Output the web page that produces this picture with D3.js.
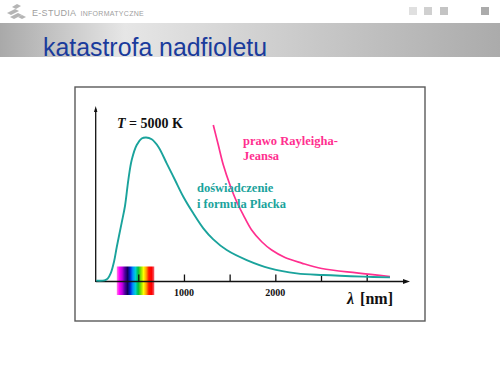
<!DOCTYPE html>
<html lang="pl">
  <head>
    <meta charset="UTF-8" />
    <title>katastrofa nadfioletu</title>
    <style>
      body { margin: 0; background: #fff; }
      svg { display: block; }
    </style>
  </head>
  <body>
    <script src="https://d3js.org/d3.v7.min.js"></script>
    <script>
      // wartości (nm, jednostki względne)
      const planckNm = [40, 130, 165, 200, 235, 264, 318, 355, 391, 428, 483, 537, 585, 647, 719, 811, 902, 993, 1102, 1212, 1321, 1468, 1687, 1942, 2234, 2525, 2963, 3255];
      const planckVal = [0.006, 0.008, 0.02, 0.06, 0.14, 0.24, 0.41, 0.53, 0.71, 0.85, 0.955, 1.0, 1.008, 0.995, 0.943, 0.827, 0.71, 0.593, 0.477, 0.372, 0.295, 0.22, 0.15, 0.092, 0.057, 0.045, 0.034, 0.029];
      const rjNm = [1321, 1376, 1431, 1504, 1577, 1650, 1741, 1851, 1960, 2106, 2289, 2508, 2891, 3255];
      const rjVal = [1.095, 0.955, 0.815, 0.675, 0.558, 0.465, 0.36, 0.278, 0.22, 0.168, 0.129, 0.091, 0.06, 0.035];
      const tickNm = [500, 1000, 1500, 2000, 2500, 3000];
      const tickLabels = ["", "1000", "", "2000", "", ""];
      const spectrumNm = [265, 675];

      const W = 500, H = 375;
      const svg = d3.select("body").append("svg").attr("width", W).attr("height", H);
      const defs = svg.append("defs");

      // nagłówek
      const band = defs.append("linearGradient").attr("id", "band");
      band.append("stop").attr("offset", "0%").attr("stop-color", "#a9a9a9");
      band.append("stop").attr("offset", "25%").attr("stop-color", "#e6e6e6");
      band.append("stop").attr("offset", "100%").attr("stop-color", "#ababab");
      svg.append("rect").attr("x", 0).attr("y", 23).attr("width", W).attr("height", 34).attr("fill", "url(#band)");

      const logo = svg.append("g").attr("fill", "#b5b5b5");
      logo.append("path").attr("d", "M7,13 L15,9 L19,11 L11,15 Z");
      logo.append("path").attr("d", "M10,17 L18,13 L22,15 L14,19 Z");
      logo.append("path").attr("d", "M12,7 L17,4 L21,6 L16,9 Z");
      logo.append("path").attr("d", "M18,17 L22,15 L26,17 L22,19 Z");
      svg.append("text").attr("x", 32).attr("y", 15.5)
        .attr("font-family", "Liberation Sans, sans-serif").attr("font-size", 9)
        .attr("fill", "#a0a0a0").attr("letter-spacing", 0.3)
        .text("E-STUDIA")
        .append("tspan").attr("dx", 4).attr("font-size", 7).text("INFORMATYCZNE");

      const squares = [[409, "#e0e0e0"], [424, "#d0d0d0"], [440, "#c4c4c4"], [481, "#ababab"]];
      svg.selectAll("rect.sq").data(squares).join("rect").attr("class", "sq")
        .attr("x", d => d[0]).attr("y", 7).attr("width", 8).attr("height", 8)
        .attr("fill", d => d[1]);

      svg.append("text").attr("x", 43).attr("y", 56)
        .attr("font-family", "Liberation Sans, Arial, sans-serif").attr("font-size", 25)
        .attr("fill", "#1a3b9c").attr("textLength", 224).attr("lengthAdjust", "spacingAndGlyphs")
        .text("katastrofa nadfioletu");

      // ramka
      svg.append("rect").attr("x", 75).attr("y", 87).attr("width", 350).attr("height", 234)
        .attr("fill", "#fff").attr("stroke", "#5a5a5a").attr("stroke-width", 1.4);

      const x = d3.scaleLinear().domain([0, 3500]).range([92.6, 92.6 + 3500 * 0.09136]);
      const y = d3.scaleLinear().domain([0, 1.2]).range([281.5, 110]);

      // widmo
      const spec = defs.append("linearGradient").attr("id", "spec");
      const specColors = ["#ff80e0", "#ff00ff", "#c000e0", "#5000a0", "#10005a", "#0020d0", "#0090ff", "#00d0d0", "#00c040", "#80e000", "#ffff00", "#ffa000", "#ff1000", "#ff0000", "#f06070"];
      specColors.forEach((c, i) => spec.append("stop")
        .attr("offset", (i / (specColors.length - 1) * 100) + "%").attr("stop-color", c));
      svg.append("rect").attr("x", x(spectrumNm[0])).attr("y", 266.5)
        .attr("width", x(spectrumNm[1]) - x(spectrumNm[0])).attr("height", 28.5)
        .attr("fill", "url(#spec)");

      // osie
      const ax = svg.append("g").attr("stroke", "#111").attr("stroke-width", 1.3);
      ax.append("line").attr("x1", 95.7).attr("x2", 95.7).attr("y1", 109).attr("y2", 282);
      ax.append("line").attr("x1", 95.7).attr("x2", 406).attr("y1", 281.5).attr("y2", 281.5);
      svg.append("path").attr("d", "M410,281.5 L403,279 L403,284 Z").attr("fill", "#111");
      svg.append("path").attr("d", "M95.7,106 L94,112 L97.4,112 Z").attr("fill", "#111");

      const xAxis = d3.axisTop(x).tickValues(tickNm).tickSize(7).tickFormat("");
      svg.append("g").attr("transform", "translate(0,281.5)").call(xAxis)
        .call(g => g.select(".domain").remove())
        .call(g => g.selectAll(".tick line").attr("stroke", "#111").attr("stroke-width", 1.3));

      svg.append("g").selectAll("text").data(tickNm).join("text")
        .attr("x", d => x(d)).attr("y", 295.5).attr("text-anchor", "middle")
        .attr("font-family", "Liberation Serif, serif").attr("font-weight", "bold")
        .attr("font-size", 10).attr("fill", "#111")
        .text((d, i) => tickLabels[i]);

      const lab = svg.append("text").attr("x", 347).attr("y", 303.5)
        .attr("font-family", "Liberation Serif, serif").attr("font-weight", "bold")
        .attr("font-size", 16).attr("fill", "#111");
      lab.append("tspan").attr("font-style", "italic").text("λ");
      lab.append("tspan").attr("dx", 6).text("[nm]");

      // krzywe
      const line = d3.line().x(d => x(d[0])).y(d => y(d[1])).curve(d3.curveCatmullRom.alpha(0.5));
      svg.append("path").datum(rjNm.map((n, i) => [n, rjVal[i]]))
        .attr("d", line).attr("fill", "none").attr("stroke", "#ff2f8f").attr("stroke-width", 1.7);
      svg.append("path").datum(planckNm.map((n, i) => [n, planckVal[i]]))
        .attr("d", line).attr("fill", "none").attr("stroke", "#1aa39c").attr("stroke-width", 1.9);

      // opisy
      const t = svg.append("text").attr("x", 117).attr("y", 128)
        .attr("font-family", "Liberation Serif, serif").attr("font-weight", "bold")
        .attr("font-size", 14).attr("fill", "#111");
      t.append("tspan").attr("font-style", "italic").text("T");
      t.append("tspan").text(" = 5000 K");

      const serif = g => g.attr("font-family", "Liberation Serif, serif").attr("font-weight", "bold").attr("font-size", 12.5);
      svg.append("text").attr("x", 243).attr("y", 145).call(serif).attr("fill", "#ff2f8f").text("prawo Rayleigha-");
      svg.append("text").attr("x", 243).attr("y", 159.5).call(serif).attr("fill", "#ff2f8f").text("Jeansa");
      svg.append("text").attr("x", 197).attr("y", 192).call(serif).attr("fill", "#1aa39c").text("doświadczenie");
      svg.append("text").attr("x", 197).attr("y", 207.5).call(serif).attr("fill", "#1aa39c").text("i formula Placka");
    </script>
  </body>
</html>
